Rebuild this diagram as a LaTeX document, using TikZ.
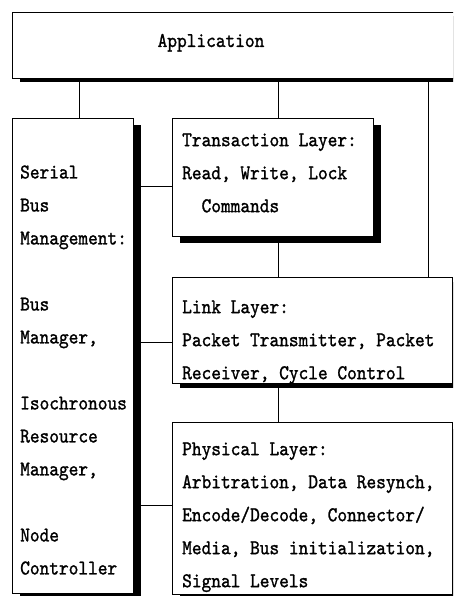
\documentclass[tikz,border=0pt]{standalone}
\usepackage{fontspec}
\usetikzlibrary{shadows}

\newfontfamily\layerfont{lmmono10-regular.otf}[FakeStretch=0.88, FakeBold=1.2]

\tikzset{
    layerbox/.style={draw, fill=white, line width=0.9pt, inner sep=0pt, anchor=north west},
    shadowed/.style={drop shadow={shadow xshift=8pt, shadow yshift=#1, fill=black, opacity=1}},
    shadowed/.default=-7pt,
    layertext/.style={anchor=north west, inner sep=0pt, align=left, font=\fontsize{21}{33}\selectfont\layerfont},
    wire/.style={line width=0.8pt}
}

\begin{document}
\begin{tikzpicture}[x=1pt,y=-1pt]

    \useasboundingbox (0,0) rectangle (453,596);
    \clip (0,0) rectangle (453,596);

    %draw boxes:
    \node[layerbox, shadowed=-4pt, minimum width=458pt, minimum height=66pt] (app) at (12,12) {};
    \node[layerbox, shadowed, minimum width=121pt, minimum height=475pt] (mgmt) at (12,118) {};
    \node[layerbox, shadowed, minimum width=201pt, minimum height=118pt] (trans) at (172,118) {};
    \node[layerbox, shadowed=-5pt, minimum width=280pt, minimum height=106pt] (link) at (172,277) {};
    \node[layerbox, shadowed, minimum width=280pt, minimum height=172pt] (phys) at (172,422) {};

    %texts:
    \node[anchor=base, inner sep=0pt, font=\fontsize{21}{33}\selectfont\layerfont] (apptext) at (211,47) {Application};
    \node[layertext] (mgmttext) at (20,165.2) {Serial\\Bus\\Management:\\[33pt]Bus\\Manager,\\[33pt]Isochronous\\Resource\\Manager,\\[33pt]Node\\Controller};
    \node[layertext] (transtext) at (182,133.2) {Transaction Layer:\\Read, Write, Lock\\~~Commands};
    \node[layertext] (linktext) at (182,300.2) {Link Layer:\\Packet Transmitter, Packet\\Receiver, Cycle Control};
    \node[layertext] (phystext) at (182,442.2) {Physical Layer:\\Arbitration, Data Resynch,\\Encode/Decode, Connector/\\Media, Bus initialization,\\Signal Levels};

    %wires:
    \coordinate (lside) at (79,0);
    \coordinate (spine) at (278,0);
    \coordinate (rside) at (428,0);
    \coordinate (mside) at (141,0);
    \coordinate (tw) at ([yshift=-9pt]trans.west);
    \coordinate (lw) at ([yshift=-12pt]link.west);
    \coordinate (pw) at ([yshift=3pt]phys.west);

    \draw[wire] (app.south -| lside) -- (mgmt.north -| lside);
    \draw[wire] (app.south -| spine) -- (trans.north -| spine);
    \draw[wire] (trans.south -| spine) -- (link.north -| spine);
    \draw[wire] (link.south -| spine) -- (phys.north -| spine);
    \draw[wire] (app.south -| rside) -- (link.north -| rside);
    \draw[wire] (tw -| mside) -- (tw);
    \draw[wire] (lw -| mside) -- (lw);
    \draw[wire] (pw -| mside) -- (pw);

\end{tikzpicture}
\end{document}
